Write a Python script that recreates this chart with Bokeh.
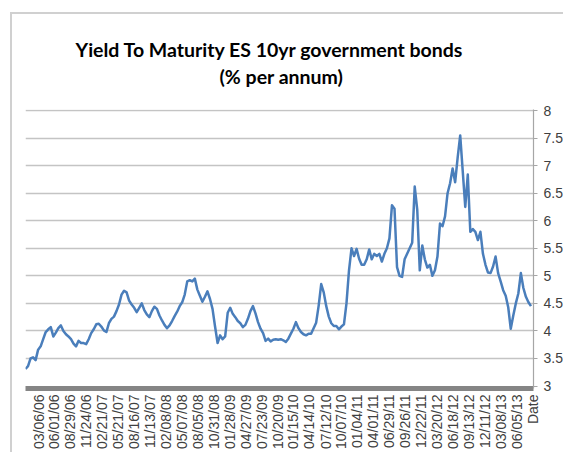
import pandas as pd
from bokeh.plotting import figure
from bokeh.models import FixedTicker, NumeralTickFormatter, Title, Range1d, ColumnDataSource
from bokeh.embed import file_html
from bokeh.resources import INLINE

TITLE_LINE_1 = "Yield To Maturity ES 10yr government bonds"
TITLE_LINE_2 = "(% per annum)"
X_AXIS_TITLE = "Date"

TICK_LABELS = [
    "03/06/06", "06/01/06", "08/29/06", "11/24/06", "02/21/07", "05/21/07",
    "08/16/07", "11/13/07", "02/08/08", "05/07/08", "08/05/08", "10/31/08",
    "01/28/09", "04/27/09", "07/23/09", "10/20/09", "01/15/10", "04/14/10",
    "07/12/10", "10/07/10", "01/04/11", "04/01/11", "06/29/11", "09/26/11",
    "12/22/11", "03/20/12", "06/18/12", "09/13/12", "12/11/12", "03/08/13",
    "06/05/13",
]

X_START = "2005-12-23"
X_END = "2013-09-06"

# yield, one value every second Friday from SERIES_START
SERIES_START = "2005-12-23"
YIELD = [
    3.31, 3.36, 3.50, 3.52, 3.47, 3.66, 3.72, 3.85, 3.98, 4.03,
    4.07, 3.90, 3.97, 4.05, 4.10, 4.00, 3.94, 3.90, 3.85, 3.77,
    3.72, 3.82, 3.78, 3.78, 3.76, 3.85, 3.96, 4.03, 4.12, 4.13,
    4.08, 4.01, 3.98, 4.14, 4.22, 4.26, 4.36, 4.48, 4.66, 4.73,
    4.70, 4.55, 4.48, 4.42, 4.34, 4.42, 4.50, 4.38, 4.30, 4.25,
    4.36, 4.44, 4.40, 4.28, 4.19, 4.11, 4.05, 4.10, 4.18, 4.27,
    4.35, 4.45, 4.52, 4.66, 4.90, 4.92, 4.90, 4.95, 4.75, 4.64,
    4.53, 4.62, 4.72, 4.58, 4.40, 4.08, 3.78, 3.92, 3.85, 3.90,
    4.33, 4.42, 4.31, 4.25, 4.18, 4.14, 4.07, 4.11, 4.22, 4.36,
    4.45, 4.32, 4.16, 4.04, 3.96, 3.82, 3.86, 3.81, 3.84, 3.85,
    3.84, 3.85, 3.83, 3.80, 3.86, 3.95, 4.04, 4.16, 4.05, 3.98,
    3.94, 3.92, 3.95, 3.95, 4.05, 4.15, 4.46, 4.85, 4.70, 4.45,
    4.26, 4.14, 4.09, 4.09, 4.03, 4.08, 4.12, 4.50, 5.10, 5.50,
    5.36, 5.49, 5.31, 5.20, 5.20, 5.30, 5.48, 5.30, 5.40, 5.36,
    5.40, 5.26, 5.40, 5.50, 5.68, 6.28, 6.22, 5.16, 5.00, 4.98,
    5.30, 5.40, 5.50, 5.60, 6.62, 6.20, 5.10, 5.55, 5.30, 5.15,
    5.20, 5.00, 5.10, 5.35, 5.95, 5.90, 6.08, 6.50, 6.68, 6.95,
    6.70, 7.15, 7.55, 6.90, 6.25, 6.84, 5.80, 5.85, 5.80, 5.65,
    5.80, 5.40, 5.20, 5.06, 5.05, 5.17, 5.35, 5.05, 4.90, 4.74,
    4.64, 4.43, 4.04, 4.28, 4.50, 4.68, 5.05, 4.78, 4.62, 4.52,
    4.45,
]

Y_TICKS = [3, 3.5, 4, 4.5, 5, 5.5, 6, 6.5, 7, 7.5, 8]

dates = pd.date_range(SERIES_START, periods=len(YIELD), freq="2W-FRI")
src = ColumnDataSource(dict(date=dates, y=YIELD))

p = figure(
    width=553, height=440,
    x_axis_type="datetime", y_axis_location="right",
    x_range=Range1d(pd.Timestamp(X_START), pd.Timestamp(X_END)),
    y_range=Range1d(2.955, 8.02),
    output_backend="svg", toolbar_location=None, title=None,
    min_border_left=13, min_border_right=30, min_border_top=95, min_border_bottom=66,
    margin=(12, 0, 0, 10),
    styles={"border-top": "2px solid #d0d0d0", "border-left": "2px solid #d0d0d0"},
)
p.outline_line_color = None
p.background_fill_color = "white"
p.border_fill_color = "white"

# titles: the first added sits closest to the frame
spacer = Title(text=" ", text_font_size="1px", standoff=18)
t2 = Title(text=TITLE_LINE_2, align="left", offset=194, text_font="Lato",
           text_font_size="19.5px", text_font_style="bold", text_color="#000000",
           standoff=2)
t1 = Title(text=TITLE_LINE_1, align="left", offset=50, text_font="Lato",
           text_font_size="19.5px", text_font_style="bold", text_color="#000000",
           standoff=2)
p.add_layout(spacer, "above")
p.add_layout(t2, "above")
p.add_layout(t1, "above")

p.line("date", "y", source=src, line_color="#4a7ebb", line_width=2.5, line_join="round")

# grid
p.xgrid.visible = False
p.ygrid.ticker = FixedTicker(ticks=Y_TICKS[1:])
p.ygrid.grid_line_color = "#c4c4c4"
p.ygrid.grid_line_width = 1.3

# right y axis
ya = p.yaxis[0]
ya.ticker = FixedTicker(ticks=Y_TICKS)
ya.formatter = NumeralTickFormatter(format="0.[0]")
ya.axis_line_color = "#a6a6a6"
ya.axis_line_width = 1.2
ya.major_tick_line_color = "#a6a6a6"
ya.major_tick_in = 0
ya.major_tick_out = 4
ya.minor_tick_line_color = None
ya.major_label_standoff = 6
ya.major_label_text_font = "Liberation Sans"
ya.major_label_text_font_size = "14px"
ya.major_label_text_color = "#404040"

# bottom date axis
tick_ms = [int(t.value // 10**6) for t in pd.to_datetime(TICK_LABELS, format="%m/%d/%y")]
end_ms = int(pd.Timestamp(X_END).value // 10**6) - 12 * 3600 * 1000
overrides = {ms: lab for ms, lab in zip(tick_ms, TICK_LABELS)}
overrides[end_ms] = X_AXIS_TITLE
xa = p.xaxis[0]
xa.ticker = FixedTicker(ticks=tick_ms + [end_ms])
xa.major_label_overrides = overrides
xa.major_label_orientation = 3.141592653589793 / 2
xa.axis_line_color = "#858585"
xa.axis_line_width = 5
xa.major_tick_line_color = None
xa.minor_tick_line_color = None
xa.major_tick_in = 0
xa.major_tick_out = 0
xa.major_label_standoff = 6
xa.major_label_text_font = "Liberation Sans"
xa.major_label_text_font_size = "14px"
xa.major_label_text_color = "#404040"

open("out.html", "w").write(file_html(p, INLINE))
